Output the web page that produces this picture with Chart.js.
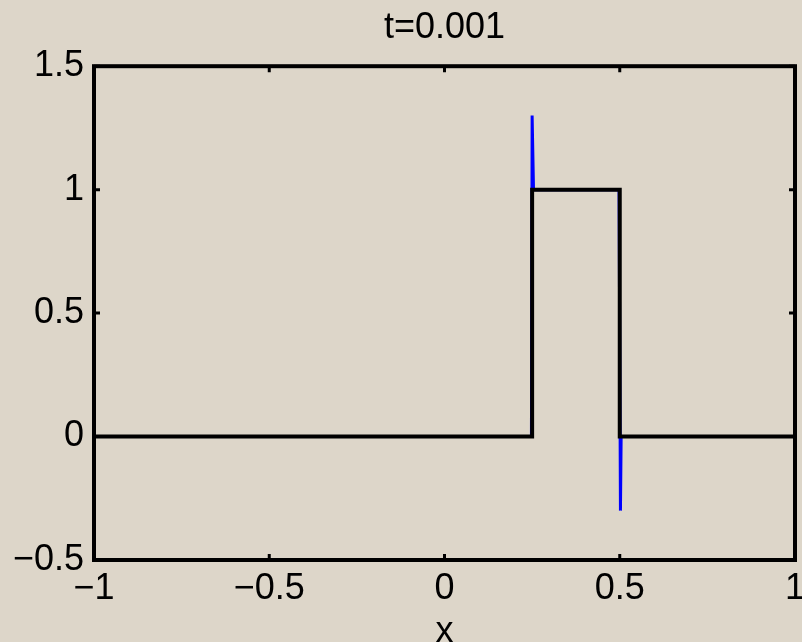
<!DOCTYPE html>
<html>
<head>
<meta charset="utf-8">
<script src="https://cdn.jsdelivr.net/npm/chart.js@4/dist/chart.umd.min.js"></script>
<style>
  html, body { margin: 0; padding: 0; background: #ddd6c9; }
  #plot { display: block; }
</style>
</head>
<body>
<canvas id="plot" width="802" height="642"></canvas>
<script>
// numerical solution (blue) with overshoot at the two jumps
const xNumeric = [-1, 0.248, 0.25, 0.254, 0.498, 0.502, 0.504, 1];
const yNumeric = [0, 0, 1.3, 1, 1, -0.3, 0, 0];

// exact square pulse (black)
const xExact = [-1, 0.25, 0.25, 0.5, 0.5, 1];
const yExact = [0, 0, 1, 1, 0, 0];

const xTicks = [-1, -0.5, 0, 0.5, 1];
const yTicks = [-0.5, 0, 0.5, 1, 1.5];
const titleText = "t=0.001";
const xLabel = "x";

const FONT = "'Liberation Sans', Arial, sans-serif";
const BG = "#ddd6c9";

const toPoints = (xs, ys) => xs.map((x, i) => ({ x: x, y: ys[i] }));

// background, box frame and inward tick marks like a matlab axes
const framePlugin = {
  id: "frame",
  beforeDraw(chart) {
    const ctx = chart.ctx;
    ctx.save();
    ctx.fillStyle = BG;
    ctx.fillRect(0, 0, chart.width, chart.height);
    ctx.restore();
  },
  afterDatasetsDraw(chart) {
    const { ctx, chartArea: a, scales } = chart;
    ctx.save();
    ctx.strokeStyle = "#000";
    ctx.lineWidth = 4;
    ctx.strokeRect(a.left, a.top, a.right - a.left, a.bottom - a.top);
    ctx.lineWidth = 3;
    const len = 6;
    scales.x.ticks.forEach((t) => {
      const px = scales.x.getPixelForValue(t.value);
      ctx.beginPath();
      ctx.moveTo(px, a.bottom);
      ctx.lineTo(px, a.bottom - len);
      ctx.moveTo(px, a.top);
      ctx.lineTo(px, a.top + len);
      ctx.stroke();
    });
    scales.y.ticks.forEach((t) => {
      const py = scales.y.getPixelForValue(t.value);
      ctx.beginPath();
      ctx.moveTo(a.left, py);
      ctx.lineTo(a.left + len, py);
      ctx.moveTo(a.right, py);
      ctx.lineTo(a.right - len, py);
      ctx.stroke();
    });
    ctx.restore();
  },
};

new Chart(document.getElementById("plot"), {
  type: "scatter",
  data: {
    datasets: [
      {
        label: "exact",
        data: toPoints(xExact, yExact),
        showLine: true,
        borderColor: "#000000",
        borderWidth: 4,
        pointRadius: 0,
        tension: 0,
        order: 1,
      },
      {
        label: "numerical",
        data: toPoints(xNumeric, yNumeric),
        showLine: true,
        borderColor: "#0000ff",
        borderWidth: 3,
        pointRadius: 0,
        tension: 0,
        order: 2,
      },
    ],
  },
  options: {
    responsive: false,
    animation: false,
    layout: { padding: { left: 0, right: 7, top: 0, bottom: 0 } },
    plugins: {
      legend: { display: false },
      tooltip: { enabled: false },
      title: {
        display: true,
        fullSize: false,
        text: titleText,
        color: "#000",
        font: { family: FONT, size: 36, weight: "normal" },
        padding: { top: 6, bottom: 17 },
      },
    },
    scales: {
      x: {
        type: "linear",
        min: -1,
        max: 1,
        afterBuildTicks: (scale) => {
          scale.ticks = xTicks.map((v) => ({ value: v }));
        },
        afterFit: (scale) => {
          scale.height = 82;
          scale.paddingLeft = 0;
          scale.paddingRight = 0;
        },
        grid: { display: false, drawTicks: false },
        border: { display: false },
        ticks: {
          color: "#000",
          padding: 7,
          maxRotation: 0,
          font: { family: FONT, size: 36 },
          callback: (v) => String(v).replace("-", "\u2212"),
        },
        title: {
          display: true,
          text: xLabel,
          color: "#000",
          font: { family: FONT, size: 36 },
          padding: { top: 0, bottom: -12 },
        },
      },
      y: {
        type: "linear",
        min: -0.5,
        max: 1.5,
        afterBuildTicks: (scale) => {
          scale.ticks = yTicks.map((v) => ({ value: v }));
        },
        afterFit: (scale) => {
          scale.width = 94;
          scale.paddingTop = 0;
          scale.paddingBottom = 0;
        },
        grid: { display: false, drawTicks: false },
        border: { display: false },
        ticks: {
          color: "#000",
          padding: 10,
          font: { family: FONT, size: 36 },
          callback: (v) => String(v).replace("-", "\u2212"),
        },
      },
    },
  },
  plugins: [framePlugin],
});
</script>
</body>
</html>
